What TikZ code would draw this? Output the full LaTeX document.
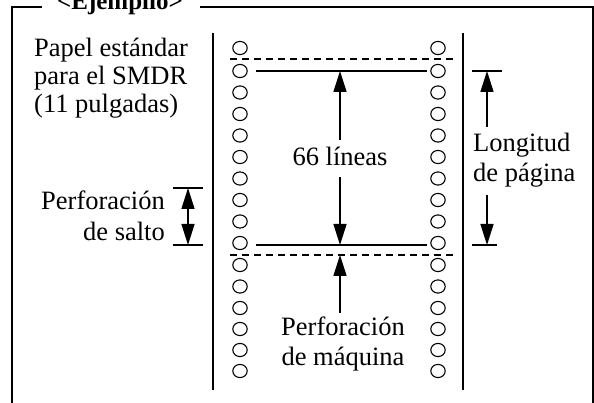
\documentclass[tikz,border=0pt]{standalone}
\usepackage{fontspec}
\setmainfont{Liberation Serif}
\usetikzlibrary{arrows.meta}
\begin{document}
\begin{tikzpicture}[x=1pt,y=-1pt,
  ln/.style={line width=1.6pt},
  dsh/.style={line width=1.5pt,dash pattern=on 7pt off 5pt},
  arr/.style={line width=1.5pt,-{Triangle[length=21pt,width=13pt]}},
  txt/.style={inner sep=0pt,font=\fontsize{26.5}{30}\selectfont},
  holestyle/.style={line width=1.1pt}
]
\clip (0,0) rectangle (594,403);
% frame
\node[inner sep=0pt,anchor=base,font=\fontsize{25}{30}\selectfont\bfseries] (title) at (120,10) {<Ejemplio>};
\coordinate (fa) at (42,7);
\coordinate (fb) at (200,7);
\draw[ln] (fa) -- (12,7) -- (12,404);
\draw[ln] (fb) -- (593,7) -- (593,404);
% paper edges
\coordinate (pl1) at (213,33); \coordinate (pl2) at (213,390);
\coordinate (pr1) at (463,33); \coordinate (pr2) at (463,390);
\draw[ln] (pl1) -- (pl2);
\draw[ln] (pr1) -- (pr2);
% holes
\foreach \y in {48,71,92.5,114,135.5,157,178.5,200,221.5,243,265,286.5,308,329,350,371}{
  \draw[holestyle] (240,\y) ellipse [x radius=7.2pt, y radius=6.6pt];
  \draw[holestyle] (438,\y) ellipse [x radius=7.2pt, y radius=6.6pt];
}
% perforation lines
\coordinate (d1a) at (230,59); \coordinate (d1b) at (453,59);
\coordinate (d2a) at (230,255); \coordinate (d2b) at (453,255);
\draw[dsh] (d1a) -- (d1b);
\draw[dsh] (d2a) -- (d2b);
\coordinate (s1a) at (256,71); \coordinate (s1b) at (427,71);
\coordinate (s2a) at (256,245); \coordinate (s2b) at (427,245);
\draw[ln] (s1a) -- (s1b);
\draw[ln] (s2a) -- (s2b);
% left text
\node[txt,anchor=base west] (p1) at (34,57) {Papel estándar};
\node[txt,anchor=base west] (p2) at (34,85) {para el SMDR};
\node[txt,anchor=base west] (p3) at (34,113) {(11 pulgadas)};
% 66 lineas
\node[txt,anchor=base] (l66) at (340,166) {66 líneas};
\coordinate (m1) at (340,71); \coordinate (m1s) at (340,140);
\coordinate (m2) at (340,245); \coordinate (m2s) at (340,177);
\draw[arr] (m1s) -- (m1);
\draw[arr] (m2s) -- (m2);
% perforacion de salto
\node[txt,anchor=base east] (ps1) at (165,210) {Perforación};
\node[txt,anchor=base east] (ps2) at (165,241) {de salto};
\coordinate (st1) at (173,188); \coordinate (st2) at (203,188);
\coordinate (sb1) at (173,245); \coordinate (sb2) at (203,245);
\draw[ln] (st1) -- (st2);
\draw[ln] (sb1) -- (sb2);
\coordinate (sat) at (188,188); \coordinate (sab) at (188,245);
\draw[line width=1.5pt,{Triangle[length=21pt,width=13pt]}-{Triangle[length=21pt,width=13pt]}] (sat) -- (sab);
% longitud de pagina
\coordinate (lt1) at (472,71); \coordinate (lt2) at (502,71);
\coordinate (lb1) at (472,245); \coordinate (lb2) at (497,245);
\draw[ln] (lt1) -- (lt2);
\draw[ln] (lb1) -- (lb2);
\node[txt,anchor=base west] (lg1) at (473,152) {Longitud};
\node[txt,anchor=base west] (lg2) at (473,182) {de página};
\coordinate (la1) at (487,127); \coordinate (la1t) at (487,71);
\coordinate (la2) at (487,195); \coordinate (la2t) at (487,245);
\draw[arr] (la1) -- (la1t);
\draw[arr] (la2) -- (la2t);
% perforacion de maquina
\coordinate (pm1) at (340,313); \coordinate (pm1t) at (340,255);
\draw[arr] (pm1) -- (pm1t);
\node[txt,anchor=base] (pm2) at (343,335) {Perforación};
\node[txt,anchor=base] (pm3) at (343,365) {de máquina};
\end{tikzpicture}
\end{document}
